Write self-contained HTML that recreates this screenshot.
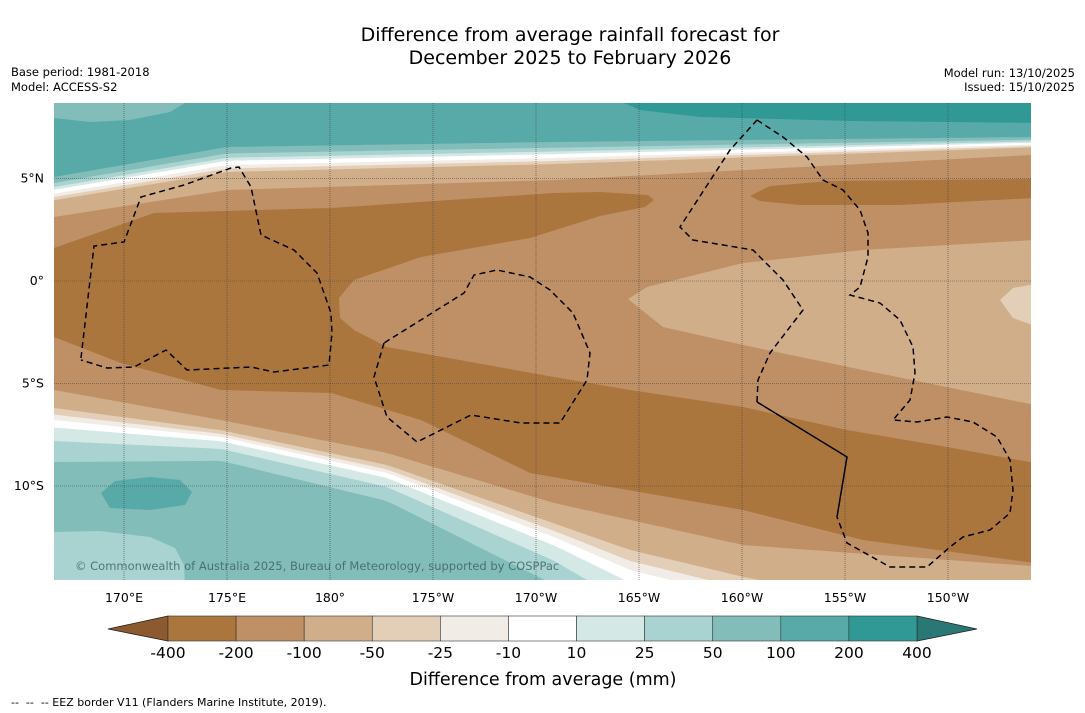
<!DOCTYPE html>
<html><head><meta charset="utf-8">
<style>
html,body{margin:0;padding:0;background:#fff;width:1085px;height:713px;overflow:hidden;font-family:"DejaVu Sans","Liberation Sans",sans-serif;}
svg{position:absolute;left:0;top:0;display:block}
</style></head>
<body>
<svg id="s" width="1085" height="713" xmlns="http://www.w3.org/2000/svg" font-family="DejaVu Sans, Liberation Sans, sans-serif">
<text x="570" y="41" text-anchor="middle" font-size="19">Difference from average rainfall forecast for</text>
<text x="570" y="64" text-anchor="middle" font-size="19">December 2025 to February 2026</text>
<text x="11" y="76" font-size="11.5">Base period: 1981-2018</text>
<text x="11" y="91" font-size="11.5">Model: ACCESS-S2</text>
<text x="1075" y="77" font-size="11.5" text-anchor="end">Model run: 13/10/2025</text>
<text x="1075" y="91" font-size="11.5" text-anchor="end">Issued: 15/10/2025</text>
<defs><clipPath id="mc"><rect x="54" y="103" width="977" height="477"/></clipPath></defs>
<g id="map" clip-path="url(#mc)"></g>
<g id="cb"></g>
<text x="543" y="685" text-anchor="middle" font-size="17.5">Difference from average (mm)</text>
<text x="11" y="706" font-size="11" xml:space="preserve">--  --  -- EEZ border V11 (Flanders Marine Institute, 2019).</text>
</svg>
<script>
const levels=["-400","-200","-100","-50","-25","-10","10","25","50","100","200","400"];
const colors=["#ab763d","#bf9065","#d1ae8a","#e3cfb8","#f2ece6","#ffffff","#d4e8e6","#a9d3d1","#82bdba","#58aaa8","#319995"];
const lonLabels=["170°E","175°E","180°","175°W","170°W","165°W","160°W","155°W","150°W"];
const lonValues=[170,175,180,185,190,195,200,205,210];
const latLabels=["5°N","0°","5°S","10°S"];
const latValues=[5,0,-5,-10];
const NS="http://www.w3.org/2000/svg";
const xS=l=>124+(l-170)*20.6;
const yS=a=>281-a*20.5;
const map=document.getElementById('map');
function mk(tag,at,parent){const e=document.createElementNS(NS,tag);for(const k in at)e.setAttribute(k,at[k]);(parent||map).appendChild(e);return e;}
function interp(pts,x){for(let i=0;i<pts.length-1;i++){if(x<=pts[i+1][0]){const t=(x-pts[i][0])/(pts[i+1][0]-pts[i][0]);return pts[i][1]+t*(pts[i+1][1]-pts[i][1]);}}return pts[pts.length-1][1];}
const XS=[];for(let x=40;x<=1045;x+=8)XS.push(x);
function poly(pts,fill,name){const p=mk('polygon',{points:pts.map(q=>q[0].toFixed(1)+','+q[1].toFixed(1)).join(' '),fill:fill});

return p;}
const bg=mk('rect',{x:54,y:103,width:977,height:477,fill:colors[1]});


const T=[[54,177],[227,147],[554,142],[1031,137]];
const W=[[54,40],[227,43],[554,38],[1031,18]];
const topF=[1.0,0.58,0.5,0.42,0.32,0.25,0.15,0];
const topC=[colors[2],colors[3],colors[4],colors[5],colors[6],colors[7],colors[8],colors[9]];
topF.forEach((f,i)=>{const pts=[[40,90]];XS.forEach(x=>pts.push([x,interp(T,x)+f*interp(W,x)]));pts.push([1045,90]);poly(pts,topC[i],'top-band-'+i);});
poly([[54,103],[185,103],[170,112],[130,120],[90,122],[54,118]],colors[8],'top-left-light-patch');
poly([[620,98],[624,103],[640,110],[700,117],[850,121],[1040,123],[1040,98]],colors[10],'top-right-dark-teal');
const M=[[54,390],[221,420],[387,453],[554,503],[743,545],[1031,566]];
const WL=[[54,420],[221,437],[387,473],[554,537],[630,570],[743,598],[1031,680]];
const botF=[0,0.6,0.82,1.0,1.25,1.7,2.4];
const botC=[colors[2],colors[3],colors[4],colors[5],colors[6],colors[7],colors[8]];
botF.forEach((f,i)=>{const pts=[[40,600]];XS.forEach(x=>{const m=interp(M,x),w=interp(WL,x);pts.push([x,m+f*(w-m)]);});pts.push([1045,600]);poly(pts,botC[i],'bottom-band-'+i);});
poly([[101,493],[115,481],[150,477],[180,480],[192,492],[185,505],[150,510],[110,508]],colors[9],'bottom-left-teal-patch');
poly([[54,532],[100,531],[150,537],[175,548],[184,565],[185,585],[40,585]],colors[7],'bottom-left-light-patch');
poly([[54,248],[154,213],[331,208],[554,193],[600,192],[648,195],[654,200],[645,207],[600,216],[530,238],[421,257],[354,280],[339,298],[340,318],[354,330],[387,347],[554,377],[630,390],[743,407],[847,430],[947,447],[1035,463],[1035,563],[863,540],[743,510],[530,473],[421,420],[331,393],[221,390],[121,363],[54,337]],colors[0],'dark-brown-band');
poly([[750,196],[770,186],[830,181],[1035,179],[1035,198],[900,205],[800,205],[760,201]],colors[0],'dark-brown-patch-ne');
poly([[628,299],[647,287],[743,263],[863,250],[1035,240],[1035,405],[863,370],[743,345],[663,327]],colors[2],'light-brown-tongue');
poly([[1000,300],[1013,288],[1035,284],[1035,326],[1013,318]],colors[3],'lighter-patch-east');
const svgRoot=document.getElementById('s');
lonValues.forEach((v,i)=>{const g=mk('line',{x1:xS(v),x2:xS(v),y1:103,y2:580,stroke:'#444','stroke-width':0.6,'stroke-dasharray':'1,1'});


const t=mk('text',{x:xS(v),y:602,'text-anchor':'middle','font-size':12.5},svgRoot);t.textContent=lonLabels[i];

});
latValues.forEach((v,i)=>{const g=mk('line',{x1:54,x2:1031,y1:yS(v),y2:yS(v),stroke:'#444','stroke-width':0.6,'stroke-dasharray':'1,1'});


const t=mk('text',{x:44,y:yS(v)+4,'text-anchor':'end','font-size':12.5},svgRoot);t.textContent=latLabels[i];

});
function line(pts,dash,name){const p=mk('polyline',{points:pts.map(q=>q.join(',')).join(' '),fill:'none',stroke:'#000','stroke-width':1.5,'stroke-dasharray':dash});

}
line([[81,358],[94,246],[124,242],[141,197],[184,185],[231,168],[239,167],[251,187],[261,235],[294,250],[317,273],[331,313],[332,333],[329,365],[274,372],[251,367],[187,370],[166,350],[134,367],[107,368],[81,360]],'6,4','eez-border-west');
line([[384,343],[374,377],[387,417],[417,442],[471,415],[521,423],[560,423],[587,380],[590,353],[573,313],[550,290],[530,277],[497,270],[474,275],[464,293],[384,343]],'6,4','eez-border-central');
line([[757,120],[783,137],[807,157],[823,180],[843,190],[860,210],[868,233],[868,257],[860,287],[850,295],[880,303],[900,320],[913,347],[915,373],[910,400],[893,420],[917,422],[947,417],[973,422],[997,437],[1010,460],[1013,490],[1010,513],[990,530],[963,537],[950,547],[927,567],[890,567],[847,543],[837,517]],'6,4','eez-border-east');
line([[837,517],[847,457],[757,402]],'none','eez-border-solid');
line([[757,402],[758,380],[770,353],[803,310],[783,280],[753,250],[693,240],[680,227],[730,150],[757,120]],'6,4','eez-border-east-2');
const cr=mk('text',{x:75,y:570,'font-size':11.5,fill:'#3f6468','fill-opacity':0.85});cr.textContent='© Commonwealth of Australia 2025, Bureau of Meteorology, supported by COSPPac';


const cb=document.getElementById('cb');
const x0=168,bw=68.09;
const la=mk('polygon',{points:'108,629 168,616 168,641',fill:'#8c5a2e',stroke:'#222','stroke-width':0.8},cb);


const ra=mk('polygon',{points:'917,616 977,629 917,641',fill:'#2a7876',stroke:'#222','stroke-width':0.8},cb);


colors.forEach((c,i)=>{const r=mk('rect',{x:x0+i*bw,y:616,width:bw,height:25,fill:c,stroke:'#333','stroke-width':0.6},cb);

});
levels.forEach((l,i)=>{const t=mk('text',{x:x0+i*bw,y:658,'text-anchor':'middle','font-size':15.5},cb);t.textContent=l;

});
</script>
</body></html>
